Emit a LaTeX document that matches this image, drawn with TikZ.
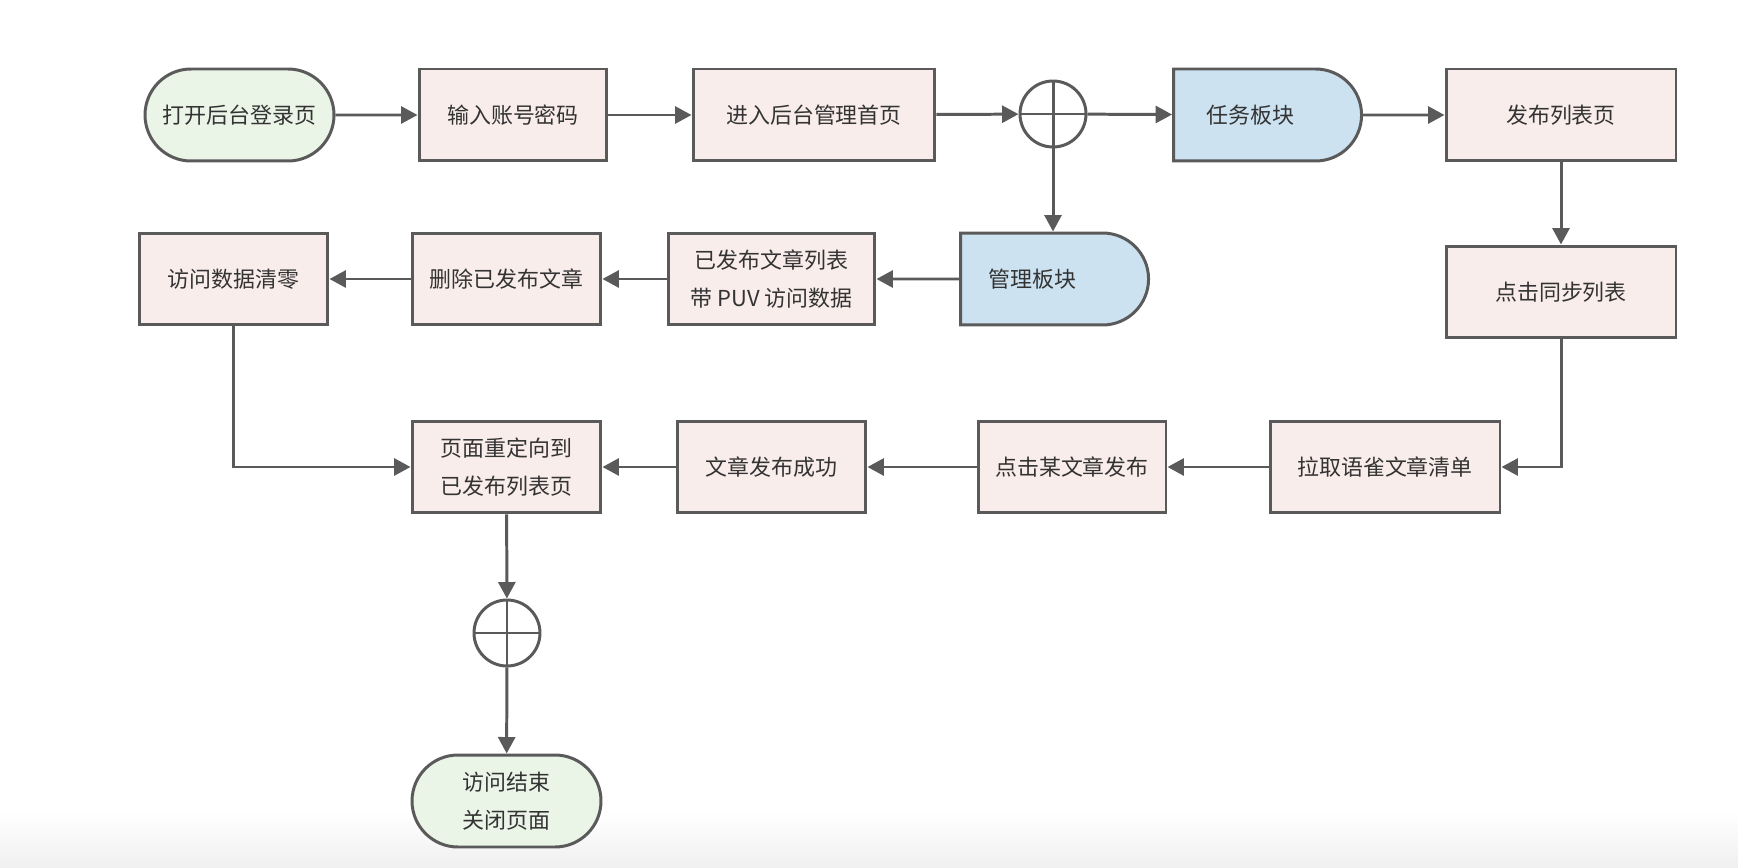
\documentclass[tikz,border=0pt]{standalone}
\usepackage{fontspec}
\setmainfont{Noto Sans CJK SC}
\usepackage{xcolor}
\usetikzlibrary{positioning,arrows.meta,shapes.misc,calc}

\definecolor{linegray}{RGB}{90,90,90}
\definecolor{txtgray}{RGB}{51,51,51}
\definecolor{boxpink}{RGB}{249,237,235}
\definecolor{boxgreen}{RGB}{234,244,231}
\definecolor{boxblue}{RGB}{204,226,240}

\tikzset{
  >={Triangle[length=0.33cm,width=0.34cm]},
  base/.style={draw=linegray,line width=1.7pt,text=txtgray,font=\fontsize{12.5}{22}\selectfont,minimum height=1.84cm,inner sep=0pt},
  box/.style={base,rectangle,fill=boxpink,align=center},
  terminal/.style={base,rounded rectangle,fill=boxgreen,align=center},
  delaybox/.style={base,rounded rectangle,rounded rectangle left arc=none,fill=boxblue},
  junction/.style={circle,draw=linegray,line width=1.7pt,minimum size=1.32cm,inner sep=0pt,
    path picture={\draw[linegray,line width=1.7pt] (path picture bounding box.north) -- (path picture bounding box.south)
      (path picture bounding box.west) -- (path picture bounding box.east);}},
  flow/.style={->,draw=linegray,line width=1.7pt}
}

\begin{document}
\begin{tikzpicture}[x=0.02cm,y=-0.02cm]
\useasboundingbox (0,0) rectangle (1738,868);
\shade[top color=white,bottom color=black!6] (0,812) rectangle (1738,868);

% top row
\node[terminal,minimum width=3.78cm] (open) at (239.5,115) {打开后台登录页};
\node[box,minimum width=3.76cm] (login) at (513,115) {输入账号密码};
\node[box,minimum width=4.84cm] (home) at (814,115) {进入后台管理首页};
\node[junction] (split) at (1053,114) {};
\node[delaybox,minimum width=3.76cm] (task) at (1267,115) {任务板块\hspace*{1.5em}};
\node[box,minimum width=4.6cm] (publist) at (1561,115) {发布列表页};

% second row
\node[box,minimum width=4.6cm] (sync) at (1561,292) {点击同步列表};
\node[delaybox,minimum width=3.76cm] (manage) at (1054,279) {管理板块\hspace*{2em}};
\node[box,minimum width=4.14cm] (articles) at (771.5,279) {已发布文章列表\\带 PUV 访问数据};
\node[box,minimum width=3.78cm] (delete) at (506.5,279) {删除已发布文章};
\node[box,minimum width=3.78cm] (reset) at (233.5,279) {访问数据清零};

% third row
\node[box,minimum width=4.6cm] (pull) at (1385,467) {拉取语雀文章清单};
\node[box,minimum width=3.76cm] (pick) at (1072,467) {点击某文章发布};
\node[box,minimum width=3.78cm] (done) at (771.5,467) {文章发布成功};
\node[box,minimum width=3.78cm] (redirect) at (506.5,467) {页面重定向到\\已发布列表页};

% end
\node[junction] (merge) at (507,633) {};
\node[terminal,minimum width=3.78cm] (close) at (506.5,801) {访问结束\\关闭页面};

\draw[flow] (open) -- (login);
\draw[flow] (login) -- (home);
\draw[flow] (home) -- (split);
\draw[flow] (split) -- (task);
\draw[flow] (task) -- (publist);
\draw[flow] (publist) -- (sync);
\draw[flow] (sync.south) |- (pull.east);
\draw[flow] (pull) -- (pick);
\draw[flow] (pick) -- (done);
\draw[flow] (done) -- (redirect);
\draw[flow] (split) -- (split |- manage.north);
\draw[flow] (manage) -- (articles);
\draw[flow] (articles) -- (delete);
\draw[flow] (delete) -- (reset);
\draw[flow] (reset.south) |- (redirect.west);
\draw[flow] (redirect) -- (merge);
\draw[flow] (merge) -- (close);
\end{tikzpicture}
\end{document}
